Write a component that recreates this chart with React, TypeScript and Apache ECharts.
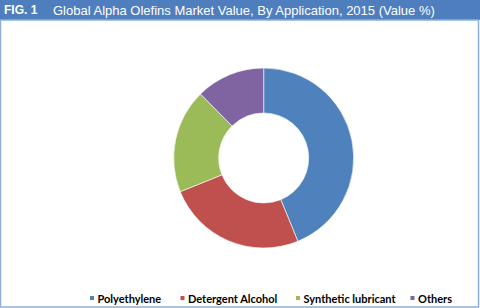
import React, { useEffect, useRef } from "react";
import * as echarts from "echarts";

const categories = ["Polyethylene", "Detergent Alcohol", "Synthetic lubricant", "Others"];
const shares = [43.8, 25.1, 18.7, 12.4];
const colors = ["#4F81BD", "#C0504D", "#9BBB59", "#8064A2"];
const legendX = [88, 178.5, 294, 408.5];
const figLabel = "FIG. 1";
const titleText = "Global Alpha Olefins Market Value, By Application, 2015 (Value %)";

export default function App() {
  const ref = useRef<HTMLDivElement>(null);
  useEffect(() => {
    if (!ref.current) return;
    const chart = echarts.init(ref.current, undefined, { renderer: "svg" });
    chart.setOption({
      animation: false,
      backgroundColor: "#ffffff",
      graphic: [
        { type: "rect", shape: { x: 0, y: 0, width: 480, height: 20 }, style: { fill: "#4F7EBE" }, z: 0 },
        { type: "rect", shape: { x: 0.5, y: 20, width: 478, height: 287 }, style: { fill: "none", stroke: "#8EAFD8", lineWidth: 1.5 }, z: 0 },
        { type: "text", x: 4, y: 4, style: { text: figLabel, fill: "#ffffff", font: "bold 12px 'Liberation Sans', Arial, sans-serif" }, z: 2 },
        { type: "text", x: 53, y: 3.5, style: { text: titleText, fill: "#ffffff", font: "13px 'Liberation Sans', Arial, sans-serif" }, z: 2 },
      ],
      legend: categories.map((name, i) => ({
        top: 291,
        left: legendX[i],
        padding: 0,
        itemWidth: 6,
        itemHeight: 6,
        icon: "rect",
        textStyle: {
          fontFamily: "Lato, 'Open Sans', sans-serif",
          fontWeight: "bold",
          fontSize: 11,
          lineHeight: 14,
          color: "#000000",
          padding: [0, 0, 0, -2.5],
        },
        data: [name],
      })),
      series: [
        {
          type: "pie",
          center: [263.7, 158],
          radius: [45, 90],
          startAngle: 90,
          clockwise: true,
          label: { show: false },
          labelLine: { show: false },
          itemStyle: { borderColor: "#ffffff", borderWidth: 0.6 },
          emphasis: { disabled: true },
          data: categories.map((name, i) => ({ name, value: shares[i], itemStyle: { color: colors[i] } })),
        },
      ],
    });
    return () => chart.dispose();
  }, []);
  return <div ref={ref} style={{ position: "absolute", left: 0, top: 0, width: 480, height: 308 }} />;
}
